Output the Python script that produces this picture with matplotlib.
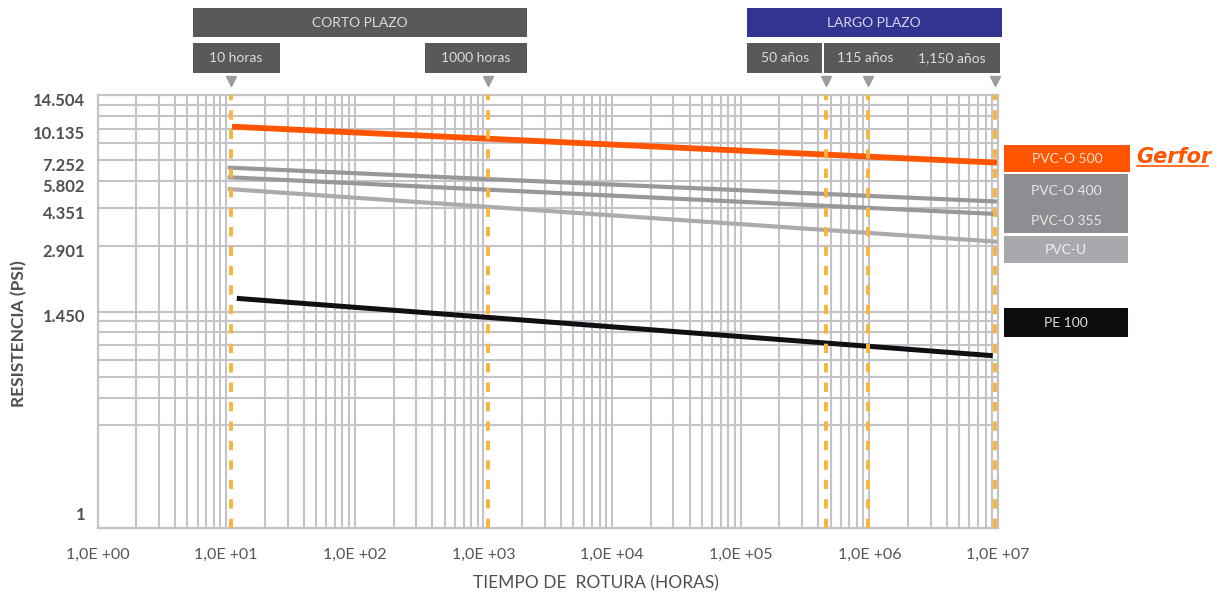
import numpy as np
import matplotlib
matplotlib.use("Agg")
import matplotlib.pyplot as plt
from matplotlib.patches import Rectangle
from matplotlib.lines import Line2D
from matplotlib.transforms import ScaledTranslation, blended_transform_factory

plt.rcParams['font.family'] = ['Lato', 'DejaVu Sans']

# series: (start hours, end hours), (start MPa, end MPa)
series_names = ['PVC-O 500', 'PVC-O 400', 'PVC-O 355', 'PVC-U', 'PE 100']
series_hours = [[11.1, 9.83e6], [10.3, 9.83e6], [10.3, 9.83e6], [10.3, 9.83e6], [12.1, 9.1e6]]
series_mpa = [[71.4, 48.7], [46.2, 32.2], [41.7, 28.2], [36.8, 21.0], [11.5, 6.25]]
series_colors = ['#ff5500', '#97989c', '#97989c', '#ababaf', '#120e14']
series_widths = [4.2, 3.0, 3.0, 3.0, 3.6]

# reference times (hours) marked with dashed lines
mark_hours = [10.9, 1080, 4.6e5, 9.76e5, 9.48e6]

x_ticks = [1, 10, 100, 1e3, 1e4, 1e5, 1e6, 1e7]
x_ticklabels = ['1,0E +00', '1,0E +01', '1,0E +02', '1,0E +03',
                '1,0E +04', '1,0E +05', '1,0E +06', '1,0E +07']
y_ticks = [1, 10, 20, 30, 40, 50, 70, 100]
y_ticklabels = ['1', '1.450', '2.901', '4.351', '5.802', '7.252', '10.135', '14.504']
y_minor = [3, 4, 5, 6, 7, 8, 9, 20, 30, 40, 50, 60, 70, 80, 90]

W, H = 1219, 597


def fx(x):
    return x / W


def fy(y):
    return 1 - y / H


fig = plt.figure(figsize=(W / 100, H / 100), dpi=100)
ax = fig.add_axes([fx(97.5), fy(528), fx(998) - fx(97.5), fy(95) - fy(528)])
ax.set_xscale('log')
ax.set_yscale('log')
ax.set_xlim(1, 1e7)
ax.set_ylim(1, 100)

grid_c = '#c4c4c6'
ax.set_xticks(x_ticks)
ax.set_xticks([d * s for d in x_ticks[:-1] for s in range(2, 10)], minor=True)
ax.set_yticks(y_ticks)
ax.set_yticks(y_minor, minor=True)
ax.set_xticklabels(x_ticklabels, fontsize=11.5, color='#555555')
ax.set_yticklabels(y_ticklabels, fontsize=12, fontweight='bold', color='#505050')
ax.yaxis.set_minor_formatter(plt.NullFormatter())
ax.xaxis.set_minor_formatter(plt.NullFormatter())
ax.tick_params(which='both', length=0)
ax.tick_params(axis='x', pad=14)
ax.tick_params(axis='y', pad=9)
ax.grid(which='both', color=grid_c, lw=1.5, zorder=0)
ax.set_axisbelow(True)
for s in ax.spines.values():
    s.set_color(grid_c)
    s.set_linewidth(1.6)

# shift y labels slightly below their lines, "1" sits higher
for i, lab in enumerate(ax.get_yticklabels()):
    dy = 0.15 if i == 0 else -0.04
    lab.set_transform(lab.get_transform() + ScaledTranslation(0, dy, fig.dpi_scale_trans))

for hrs, mpa, c, lw in zip(series_hours, series_mpa, series_colors, series_widths):
    ax.plot(hrs, mpa, color=c, lw=lw, solid_capstyle='butt', zorder=3)

for h in mark_hours:
    ax.axvline(h, color='#f8b43c', lw=2.8, dashes=(2.4, 2.6), zorder=4)

# small triangles above the chart
trans = blended_transform_factory(ax.transData, ax.transAxes)
ax.plot(mark_hours, [1.032] * len(mark_hours), 'v', color='#9d9d9f', ms=7,
        transform=trans, clip_on=False)


def box(x0, y0, x1, y1, color):
    fig.add_artist(Rectangle((fx(x0), fy(y1)), fx(x1) - fx(x0), fy(y0) - fy(y1),
                             transform=fig.transFigure, color=color, lw=0))


def label(x, y, s, color, size=10, **kw):
    fig.text(fx(x), fy(y), s, color=color, fontsize=size, ha='center', va='center', **kw)


# header boxes
box(193, 8, 527, 37, '#59595b')
label(360, 23, 'CORTO PLAZO', '#dcdcdc')
box(193, 43, 280, 73, '#59595b')
label(236, 58, '10 horas', '#dcdcdc')
box(425, 43, 527, 73, '#59595b')
label(476, 58, '1000 horas', '#dcdcdc')
box(747, 8, 1002, 37, '#333392')
label(874, 23, 'LARGO PLAZO', '#d4d4ec')
box(747, 43, 822, 73, '#59595b')
label(785, 58, '50 años', '#dcdcdc')
box(824, 43, 1000, 73, '#59595b')
label(865, 58, '115 años', '#dcdcdc')
label(952, 58, '1,150 años', '#dcdcdc')

# legend boxes on the right
box(1004, 145, 1130, 172, '#ff5400')
label(1067, 159, series_names[0], '#ffe0d0')
box(1004, 174, 1128, 233, '#8d8e92')
label(1066, 191, series_names[1], '#e6e6e6')
label(1066, 221, series_names[2], '#e6e6e6')
box(1004, 236, 1128, 263, '#a8a9ad')
label(1066, 250, series_names[3], '#f0f0f0')
box(1004, 308, 1128, 337, '#0e0b0e')
label(1066, 323, series_names[4], '#dddddd')

fig.text(fx(1136), fy(157), 'Gerfor', color='#ff5400', fontsize=15, fontweight='bold',
         fontstyle='italic', ha='left', va='center', family=['DejaVu Sans'])
fig.add_artist(Line2D([fx(1137), fx(1208)], [fy(166), fy(166)], color='#ff5400',
                      lw=1.2, transform=fig.transFigure))

fig.text(fx(596), fy(583), 'TIEMPO DE  ROTURA (HORAS)', color='#4f4f4f', fontsize=12.5,
         ha='center', va='center')
fig.text(fx(19), fy(334), 'RESISTENCIA (PSI)', color='#505050', fontsize=12.5,
         fontweight='bold', rotation=90, ha='center', va='center')

fig.savefig('out.png', dpi=100)
